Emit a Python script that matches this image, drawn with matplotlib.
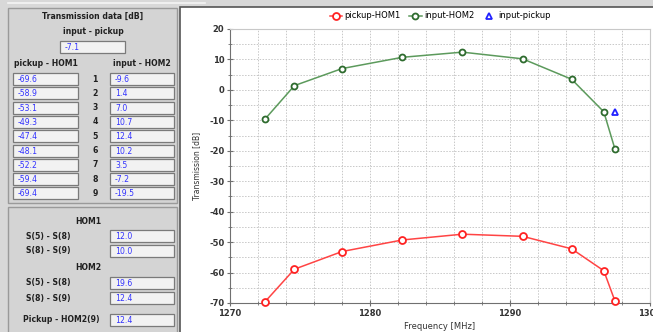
import matplotlib.pyplot as plt
from matplotlib.patches import Rectangle
from matplotlib.ticker import MultipleLocator

plt.rcParams["axes.unicode_minus"] = False

# values
freq = [1272.5, 1274.6, 1278.0, 1282.3, 1286.6, 1290.9, 1294.4, 1296.7, 1297.5]
pickup_hom1 = [-69.6, -58.9, -53.1, -49.3, -47.4, -48.1, -52.2, -59.4, -69.4]
input_hom2 = [-9.6, 1.4, 7.0, 10.7, 12.4, 10.2, 3.5, -7.2, -19.5]
pickup_freq = [1297.5]
input_pickup = [-7.1]
row_numbers = ["1", "2", "3", "4", "5", "6", "7", "8", "9"]
summary_labels = ["S(5) - S(8)", "S(8) - S(9)"]
hom1_summary = ["12.0", "10.0"]
hom2_summary = ["19.6", "12.4"]
pickup_hom2_9 = "12.4"

W, H = 653, 332
fig = plt.figure(figsize=(W / 100, H / 100), dpi=100, facecolor="#d8d8d8")

# pixel-space overlay for the left panel
bg = fig.add_axes([0, 0, 1, 1])
bg.set_xlim(0, W)
bg.set_ylim(H, 0)
bg.axis("off")

BLUE = "#3333ff"


def box(x0, y0, x1, y1, text):
    bg.add_patch(Rectangle((x0, y0), x1 - x0, y1 - y0, facecolor="#f2f2f2",
                           edgecolor="#7a7a7a", lw=0.9))
    bg.text(x0 + 5, (y0 + y1) / 2 + 0.5, text, color=BLUE, fontsize=5.6,
            va="center", ha="left")


def label(x, y, text, ha="center"):
    bg.text(x, y, text, fontsize=5.6, fontweight="bold", ha=ha, va="center",
            color="#202020")


bg.plot([8, 205], [3, 3], color="#f4f4f4", lw=1.2)
bg.add_patch(Rectangle((8, 8), 169, 195, facecolor="#d4d4d4", edgecolor="#9a9a9a", lw=1))
bg.add_patch(Rectangle((8, 207), 169, 130, facecolor="#d4d4d4", edgecolor="#9a9a9a", lw=1))
bg.add_patch(Rectangle((180, 7), 480, 330, facecolor="white", edgecolor="#555555", lw=1.2))

label(93, 16, "Transmission data [dB]")
label(93, 31, "input - pickup")
box(60, 41, 125, 53, str(input_pickup[0]))
label(46, 64, "pickup - HOM1")
label(142, 64, "input - HOM2")
for i, num in enumerate(row_numbers):
    yc = 79 + i * 14.3
    box(13, yc - 6, 78, yc + 6, str(pickup_hom1[i]))
    label(95, yc, num)
    box(110, yc - 6, 174, yc + 6, str(input_hom2[i]))

label(88, 222, "HOM1")
for i, name in enumerate(summary_labels):
    yc = 236 + i * 15
    label(48, yc, name)
    box(110, yc - 6, 174, yc + 6, hom1_summary[i])
label(88, 268, "HOM2")
for i, name in enumerate(summary_labels):
    yc = 283 + i * 15
    label(48, yc, name)
    box(110, yc - 6, 174, yc + 6, hom2_summary[i])
label(61, 320, "Pickup - HOM2(9)")
box(110, 314, 174, 326, pickup_hom2_9)

# chart
ax = fig.add_axes([230 / W, (H - 303) / H, (650 - 230) / W, (303 - 29) / H])
ax.plot(freq, pickup_hom1, color="#ff4444", lw=1.1, marker="o", ms=5,
        mfc="white", mec="#ff2222", mew=1.3, label="pickup-HOM1", clip_on=False, zorder=3)
ax.plot(freq, input_hom2, color="#5c9a5c", lw=1.1, marker="o", ms=4.3,
        mfc="white", mec="#2e6b2e", mew=1.3, label="input-HOM2", clip_on=False, zorder=3)
ax.plot(pickup_freq, input_pickup, ls="none", marker="^", ms=5,
        mfc="white", mec="#2222ff", mew=1.3, label="input-pickup", clip_on=False, zorder=3)

ax.set_xlim(1270, 1300)
ax.set_ylim(-70, 20)
ax.xaxis.set_major_locator(MultipleLocator(10))
ax.xaxis.set_minor_locator(MultipleLocator(2))
ax.yaxis.set_major_locator(MultipleLocator(10))
ax.yaxis.set_minor_locator(MultipleLocator(5))
ax.grid(True, which="both", color="#c8c8c8", ls=(0, (1.5, 1.5)), lw=0.7)
ax.set_axisbelow(True)
ax.tick_params(which="both", direction="inout", color="#707070", labelsize=6, pad=2)
ax.tick_params(which="major", length=4)
ax.tick_params(which="minor", length=3)
for t in ax.get_xticklabels() + ax.get_yticklabels():
    t.set_fontweight("bold")
    t.set_color("#333333")
for side in ["left", "bottom"]:
    ax.spines[side].set_color("#707070")
for side in ["top", "right"]:
    ax.spines[side].set_color("#c8c8c8")

ax.set_xlabel("Frequency [MHz]", fontsize=6, color="#333333", labelpad=3)
ax.set_ylabel("Transmission [dB]", fontsize=5.5, color="#333333", labelpad=6)

fig.legend(loc="center", bbox_to_anchor=(440 / W, 1 - 16 / H), ncol=3, frameon=False,
           fontsize=6, handlelength=1.5, handletextpad=0.3, columnspacing=1.0)

fig.savefig("out.png", dpi=100, facecolor=fig.get_facecolor())
